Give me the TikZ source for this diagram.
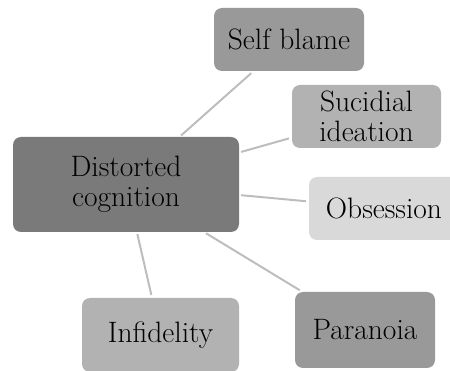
\documentclass[tikz,border=0pt]{standalone}
\begin{document}
\begin{tikzpicture}[x=1pt,y=-1pt,
  box/.style={rectangle, rounded corners=8pt, inner sep=0pt, align=center,
    font=\rmfamily\fontsize{29.5}{30.5}\selectfont, text=black},
  link/.style={draw=black!26, line width=2pt, shorten <=2pt, shorten >=3pt}]
\useasboundingbox (0,0) rectangle (450,371);
\clip (0,0) rectangle (450,371);
% hub
\node[box, fill=black!52, minimum width=226pt, minimum height=95pt] (hub) at (126,184.5) {Distorted\\cognition};
% satellites
\node[box, fill=black!40, minimum width=150pt, minimum height=63pt] (blame) at (289,39.5) {Self blame};
\node[box, fill=black!30, minimum width=149pt, minimum height=63pt] (suicide) at (366.5,116.5) {Sucidial\\ideation};
\node[box, fill=black!15, minimum width=150pt, minimum height=63pt] (obsess) at (384,208.5) {Obsession};
\node[box, fill=black!40, minimum width=140pt, minimum height=76pt] (paranoia) at (365,330) {Paranoia};
\node[box, fill=black!30, minimum width=157pt, minimum height=74pt] (infid) at (160.5,335) {Infidelity};
% spokes
\draw[link] (hub) -- (blame);
\draw[link] (hub) -- (suicide);
\draw[link] (hub) -- (obsess);
\draw[link] (hub) -- (paranoia);
\draw[link] (hub) -- (infid);
\end{tikzpicture}
\end{document}
